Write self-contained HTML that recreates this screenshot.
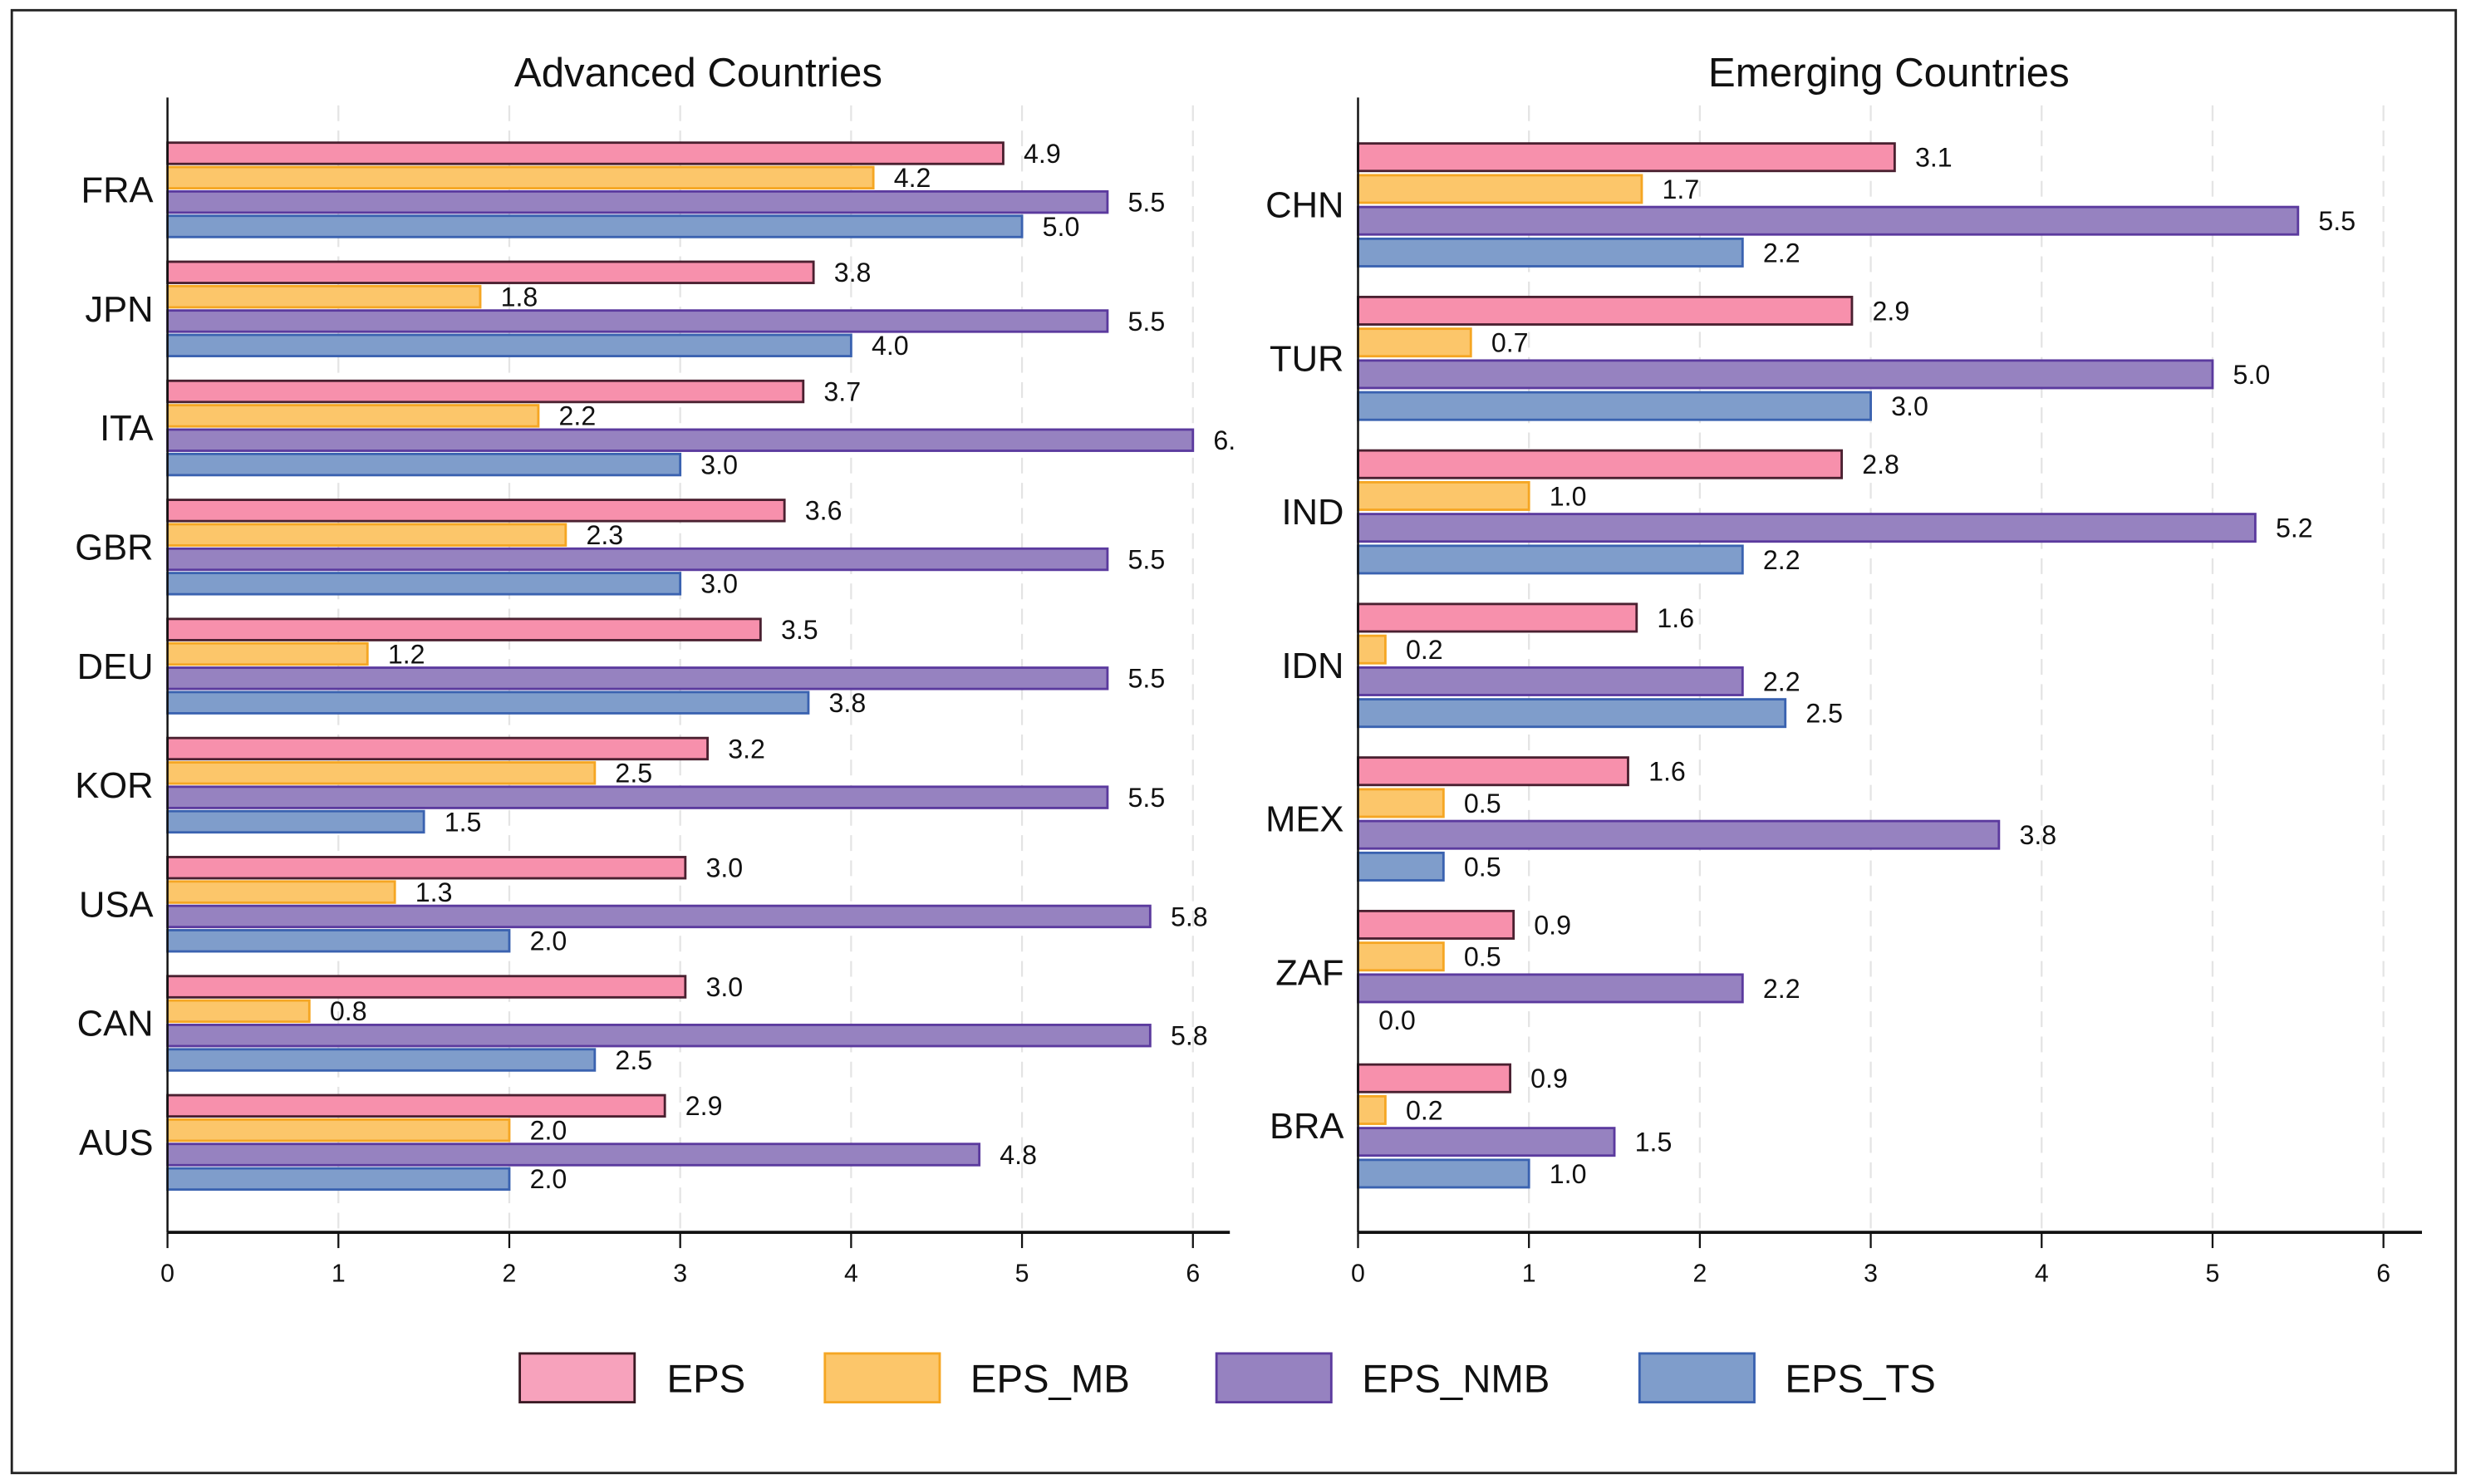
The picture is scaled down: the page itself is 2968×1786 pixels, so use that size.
<!DOCTYPE html>
<html><head><meta charset="utf-8">
<style>
html,body{margin:0;padding:0;background:#fff;}
svg{display:block;}
text{font-family:"Liberation Sans",Arial,sans-serif;}
</style></head>
<body>
<svg id="chart" width="2968" height="1786" viewBox="0 0 1568 943.5" preserveAspectRatio="none" xmlns="http://www.w3.org/2000/svg">
<rect x="7.5" y="6.5" width="1554" height="930" fill="#fff" stroke="#222" stroke-width="1.5"/>
<defs><clipPath id="clipL"><rect x="0" y="0" width="785" height="943"/></clipPath></defs>
<g id="panels"></g>
<g>
<rect x="330.5" y="860.5" width="73" height="31" fill="#f7a2bc" stroke="#3a1a24" stroke-width="1.5"/>
<text x="424" y="885" font-size="25" fill="#111">EPS</text>
<rect x="524.5" y="860.5" width="73" height="31" fill="#fcc66a" stroke="#f5a623" stroke-width="1.5"/>
<text x="617" y="885" font-size="25" fill="#111">EPS_MB</text>
<rect x="773.5" y="860.5" width="73" height="31" fill="#9682c0" stroke="#5b3a9e" stroke-width="1.5"/>
<text x="866" y="885" font-size="25" fill="#111">EPS_NMB</text>
<rect x="1042.5" y="860.5" width="73" height="31" fill="#7f9dcb" stroke="#3a62b0" stroke-width="1.5"/>
<text x="1135" y="885" font-size="25" fill="#111">EPS_TS</text>
</g>
</svg>
<script>
const advCountries = ["FRA","JPN","ITA","GBR","DEU","KOR","USA","CAN","AUS"];
const advEPS    = [4.89,3.78,3.72,3.61,3.47,3.16,3.03,3.03,2.91];
const advMB     = [4.13,1.83,2.17,2.33,1.17,2.5,1.33,0.83,2.0];
const advNMB    = [5.5,5.5,6.0,5.5,5.5,5.5,5.75,5.75,4.75];
const advTS     = [5.0,4.0,3.0,3.0,3.75,1.5,2.0,2.5,2.0];
const advEPSLbl = ["4.9","3.8","3.7","3.6","3.5","3.2","3.0","3.0","2.9"];
const advMBLbl  = ["4.2","1.8","2.2","2.3","1.2","2.5","1.3","0.8","2.0"];
const advNMBLbl = ["5.5","5.5","6.","5.5","5.5","5.5","5.8","5.8","4.8"];
const advTSLbl  = ["5.0","4.0","3.0","3.0","3.8","1.5","2.0","2.5","2.0"];

const emCountries = ["CHN","TUR","IND","IDN","MEX","ZAF","BRA"];
const emEPS    = [3.14,2.89,2.83,1.63,1.58,0.91,0.89];
const emMB     = [1.66,0.66,1.0,0.16,0.5,0.5,0.16];
const emNMB    = [5.5,5.0,5.25,2.25,3.75,2.25,1.5];
const emTS     = [2.25,3.0,2.25,2.5,0.5,0.0,1.0];
const emEPSLbl = ["3.1","2.9","2.8","1.6","1.6","0.9","0.9"];
const emMBLbl  = ["1.7","0.7","1.0","0.2","0.5","0.5","0.2"];
const emNMBLbl = ["5.5","5.0","5.2","2.2","3.8","2.2","1.5"];
const emTSLbl  = ["2.2","3.0","2.2","2.5","0.5","0.0","1.0"];

const xTicks = [0,1,2,3,4,5,6];

const NS="http://www.w3.org/2000/svg";
const root=document.getElementById('panels');
function mk(tag,attrs,parent){const e=document.createElementNS(NS,tag);for(const k in attrs)e.setAttribute(k,attrs[k]);(parent||root).appendChild(e);return e;}

const fills=["#f790ac","#fcc66a","#9682c0","#7f9dcb"];
const strokes=["#4a2030","#f5a623","#5b3a9e","#3a62b0"];
const snames=["eps","eps-mb","eps-nmb","eps-ts"];

function panel(cfg){
  const g=mk('g',{});
  
  
  const x=v=>cfg.x0+v*108.67;
  const yTop=62, yAxis=783.5;
  xTicks.forEach(t=>{
    const gl=mk('line',{x1:x(t),x2:x(t),y1:yTop+5,y2:yAxis,stroke:'#e4e4e4','stroke-width':1.2,'stroke-dasharray':'10,6'},g);
    
    
  });
  const title=mk('text',{x:cfg.titleX,y:55,'font-size':26,'text-anchor':'middle',fill:'#111'},g);
  title.textContent=cfg.title;
  
  
  const bg=mk('g',cfg.clip?{'clip-path':'url(#clipL)'}:{},g);
  const series=[cfg.eps,cfg.mb,cfg.nmb,cfg.ts];
  const lbls=[cfg.epsL,cfg.mbL,cfg.nmbL,cfg.tsL];
  cfg.cats.forEach((c,i)=>{
    const gTop=cfg.top+i*cfg.pitch;
    const cl=mk('text',{x:cfg.x0-9,y:gTop+2*cfg.bp+cfg.bh/2-cfg.bp/2+8,'font-size':23,'text-anchor':'end',fill:'#111'},g);
    cl.textContent=c;
    
    
    for(let s=0;s<4;s++){
      const v=series[s][i];
      const y=gTop+s*cfg.bp;
      if(v>0){
        const r=mk('rect',{x:x(0),y:y,width:x(v)-x(0),height:cfg.bh,fill:fills[s],stroke:strokes[s],'stroke-width':1.5},bg);
        
        
      }
      const t=mk('text',{x:x(v)+13,y:y+cfg.bh/2+6,'font-size':17,fill:'#111'},bg);
      t.textContent=lbls[s][i];
      
      
    }
  });
  const ya=mk('line',{x1:x(0),x2:x(0),y1:yTop,y2:yAxis,stroke:'#111','stroke-width':1.3},g);
  
  
  const xa=mk('line',{x1:x(0),x2:cfg.axEnd,y1:yAxis,y2:yAxis,stroke:'#111','stroke-width':2},g);
  
  
  xTicks.forEach(t=>{
    mk('line',{x1:x(t),x2:x(t),y1:yAxis,y2:yAxis+10,stroke:'#111','stroke-width':1.2},g);
    const tl=mk('text',{x:x(t),y:815,'font-size':16,'text-anchor':'middle',fill:'#111'},g);
    tl.textContent=t;
    
    
  });
}
panel({name:'advanced-panel',title:'Advanced Countries',titleX:444,x0:106.5,axEnd:782,clip:true,
  cats:advCountries,eps:advEPS,mb:advMB,nmb:advNMB,ts:advTS,epsL:advEPSLbl,mbL:advMBLbl,nmbL:advNMBLbl,tsL:advTSLbl,
  top:90.7,pitch:75.7,bp:15.5,bh:13.5});
panel({name:'emerging-panel',title:'Emerging Countries',titleX:1201,x0:863.5,axEnd:1540,clip:false,
  cats:emCountries,eps:emEPS,mb:emMB,nmb:emNMB,ts:emTS,epsL:emEPSLbl,mbL:emMBLbl,nmbL:emNMBLbl,tsL:emTSLbl,
  top:91.2,pitch:97.6,bp:20.2,bh:17.5});
</script>
</body></html>
